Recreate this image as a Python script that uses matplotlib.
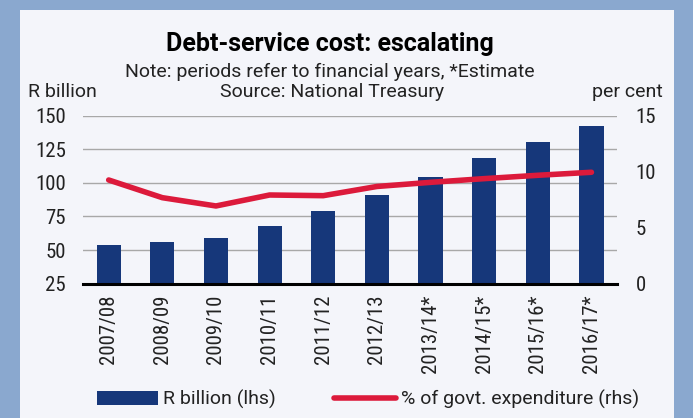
import matplotlib
matplotlib.use("Agg")
import matplotlib.pyplot as plt
from matplotlib import font_manager
from matplotlib.patches import Patch, Rectangle
from matplotlib.lines import Line2D

years = ["2007/08", "2008/09", "2009/10", "2010/11", "2011/12", "2012/13",
         "2013/14*", "2014/15*", "2015/16*", "2016/17*"]
r_billion = [54, 56, 59, 68, 79, 91, 104.5, 118.5, 130.5, 142.5]
pct_expenditure = [9.26, 7.68, 6.94, 7.92, 7.86, 8.68, 9.05, 9.38, 9.68, 9.95]
left_ticks = [25, 50, 75, 100, 125, 150]
right_ticks = [0, 5, 10, 15]

navy = "#16377a"
red = "#dc1a3b"
panel_bg = "#f4f5fa"
outer_bg = "#8aa8cf"
txt = "#222222"

# narrow face for the tick numbers, normal face for the rest
names = {f.name for f in font_manager.fontManager.ttflist}
narrow = "DejaVu Sans"
for cand in ["Roboto Condensed", "Liberation Sans Narrow", "DejaVu Sans Condensed", "Roboto"]:
    if cand in names:
        narrow = cand
        break
plt.rcParams["font.family"] = ["Roboto", "DejaVu Sans"]
tick_font = [narrow, "DejaVu Sans"]

fig = plt.figure(figsize=(6.93, 4.18), dpi=100)
fig.patch.set_facecolor(outer_bg)
fig.add_artist(Rectangle((20 / 693, 0), 654 / 693, 408 / 418, transform=fig.transFigure,
                         facecolor=panel_bg, edgecolor="none", zorder=0))

ax1 = fig.add_axes([0.1193, 0.3213, 0.7717, 0.4019])
ax1.set_facecolor("none")
x = range(len(years))
ax1.bar(x, r_billion, width=0.45, bottom=0, color=navy, zorder=2)
ax1.set_ylim(25, 150)
ax1.set_xlim(-0.485, len(years) - 1 + 0.485)
ax1.set_yticks(left_ticks)
ax1.yaxis.grid(True, color="#a8a8a8", linewidth=1.0)
ax1.set_axisbelow(True)
ax1.set_xticks(list(x))
ax1.set_xticklabels(years, rotation=90)
ax1.tick_params(axis="both", length=0, labelsize=15, colors=txt)
ax1.tick_params(axis="y", pad=12)
ax1.tick_params(axis="x", pad=8)
for s in ["top", "left", "right"]:
    ax1.spines[s].set_visible(False)
ax1.spines["bottom"].set_linewidth(2.2)
ax1.spines["bottom"].set_color("black")
ax1.spines["bottom"].set_zorder(3)

ax2 = ax1.twinx()
ax2.plot(x, pct_expenditure, color=red, linewidth=4, solid_capstyle="round", zorder=4)
ax2.set_ylim(0, 15)
ax2.set_yticks(right_ticks)
ax2.tick_params(axis="y", length=0, labelsize=15, pad=13, colors=txt)
for s in ax2.spines.values():
    s.set_visible(False)

for lab in ax1.get_xticklabels() + ax1.get_yticklabels() + ax2.get_yticklabels():
    lab.set_family(tick_font)

fig.text(0.476, 0.8787, "Debt-service cost: escalating", ha="center", va="baseline",
         fontsize=18, fontweight="bold", color="black")
fig.text(0.476, 0.8165, "Note: periods refer to financial years, *Estimate", ha="center",
         va="baseline", fontsize=14, color=txt)
fig.text(0.479, 0.768, "Source: National Treasury", ha="center", va="baseline",
         fontsize=14, color=txt)
fig.text(28 / 693, 0.768, "R billion", ha="left", va="baseline", fontsize=14, color=txt)
fig.text(663 / 693, 0.768, "per cent", ha="right", va="baseline", fontsize=14, color=txt)

handles = [Patch(facecolor=navy, edgecolor="none"),
           Line2D([], [], color=red, linewidth=4, solid_capstyle="round")]
fig.legend(handles, ["R billion (lhs)", "% of govt. expenditure (rhs)"],
           loc="center left", bbox_to_anchor=(96.7 / 693, 0.0443), ncol=2,
           frameon=False, fontsize=14, borderpad=0, borderaxespad=0,
           handlelength=3.15, handletextpad=0.27, columnspacing=3.0,
           labelcolor=txt)

fig.savefig("out.png", dpi=100, facecolor=fig.get_facecolor())
